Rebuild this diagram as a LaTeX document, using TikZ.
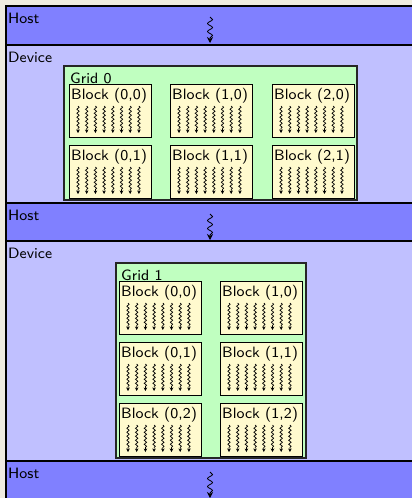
\documentclass[tikz,border=0pt]{standalone}
\usepackage{fontspec}
\setsansfont{lmsans8-regular.otf}
\usetikzlibrary{decorations.pathmorphing,arrows.meta}

\definecolor{paper}{RGB}{239,235,224}
\definecolor{hostblue}{RGB}{128,128,255}
\definecolor{devblue}{RGB}{192,192,255}
\definecolor{gridgreen}{RGB}{192,255,192}
\definecolor{blockcream}{RGB}{255,250,206}

\tikzset{
  every node/.style={font=\sffamily\fontsize{15}{18}\selectfont},
  band/.style={draw=black, line width=1.2pt, anchor=north west, inner sep=0pt,
    outer sep=0pt, minimum width=420pt},
  hostband/.style={band, fill=hostblue},
  devband/.style={band, fill=devblue},
  boxlabel/.style={anchor=base west, inner sep=0pt},
  gridbox/.style={draw=black!85, line width=1.3pt, fill=gridgreen, anchor=north west,
    inner sep=0pt, outer sep=0pt},
  blockbox/.style={draw=black, line width=0.9pt, fill=blockcream, anchor=north west,
    inner sep=0pt, outer sep=0pt, minimum width=82pt, minimum height=53pt},
  hostflow/.style={decorate, decoration={snake, amplitude=2.5pt, segment length=8pt,
    post length=5pt}, -{Stealth[length=6pt,width=6pt]}, line width=0.8pt},
  thread/.style={decorate, decoration={snake, amplitude=1.2pt, segment length=4pt,
    post length=3pt}, -{Stealth[length=3.5pt,width=3.5pt]}, line width=0.7pt},
}

% one thread block: name, left, top, index label
\newcommand\cudablock[4]{%
  \node[blockbox] (#1) at (#2,#3) {};
  \node[boxlabel] (#1-t) at ([xshift=2pt,yshift=-15pt]#1.north west) {Block #4};
  \foreach \k in {0,...,7} {
    \coordinate (#1-s\k) at ([xshift={9pt+\k*8.7pt},yshift=-22pt]#1.north west);
    \coordinate (#1-e\k) at ([xshift={9pt+\k*8.7pt},yshift=-49pt]#1.north west);
    \draw[thread] (#1-s\k) -- (#1-e\k);
  }
}

\begin{document}
\begin{tikzpicture}[x=1pt,y=-1pt]
  \useasboundingbox (0,0) rectangle (412,498);
  \fill[paper] (0,0) rectangle (412,498);

  % host / device bands
  \node[hostband, minimum height=39pt] (host1) at (6,6) {};
  \node[devband, minimum height=158pt] (dev1) at (6,45) {};
  \node[hostband, minimum height=38pt] (host2) at (6,203) {};
  \node[devband, minimum height=220pt] (dev2) at (6,241) {};
  \node[hostband, minimum height=50pt] (host3) at (6,461) {};

  \foreach \b/\t in {host1/Host, dev1/Device, host2/Host, dev2/Device, host3/Host}
    \node[boxlabel] (\b-t) at ([xshift=2pt,yshift=-17pt]\b.north west) {\t};

  % host-side serial flow
  \foreach \b in {host1, host2, host3} {
    \coordinate (\b-fs) at ([yshift=-11pt]\b.north west -| 210,0);
    \coordinate (\b-fe) at ([yshift=-37pt]\b.north west -| 210,0);
    \draw[hostflow] (\b-fs) -- (\b-fe);
  }

  % grid 0
  \node[gridbox, minimum width=293pt, minimum height=134pt] (grid0) at (64,66) {};
  \node[boxlabel] (grid0-t) at ([xshift=6pt,yshift=-17pt]grid0.north west) {Grid 0};
  \cudablock{gz00}{69}{84}{(0,0)}
  \cudablock{gz10}{170}{84}{(1,0)}
  \cudablock{gz20}{272}{84}{(2,0)}
  \cudablock{gz01}{69}{145}{(0,1)}
  \cudablock{gz11}{170}{145}{(1,1)}
  \cudablock{gz21}{272}{145}{(2,1)}

  % grid 1
  \node[gridbox, minimum width=190pt, minimum height=195pt] (grid1) at (116,263) {};
  \node[boxlabel] (grid1-t) at ([xshift=5pt,yshift=-17pt]grid1.north west) {Grid 1};
  \cudablock{go00}{119}{281}{(0,0)}
  \cudablock{go10}{220}{281}{(1,0)}
  \cudablock{go01}{119}{342}{(0,1)}
  \cudablock{go11}{220}{342}{(1,1)}
  \cudablock{go02}{119}{403}{(0,2)}
  \cudablock{go12}{220}{403}{(1,2)}
\end{tikzpicture}
\end{document}
